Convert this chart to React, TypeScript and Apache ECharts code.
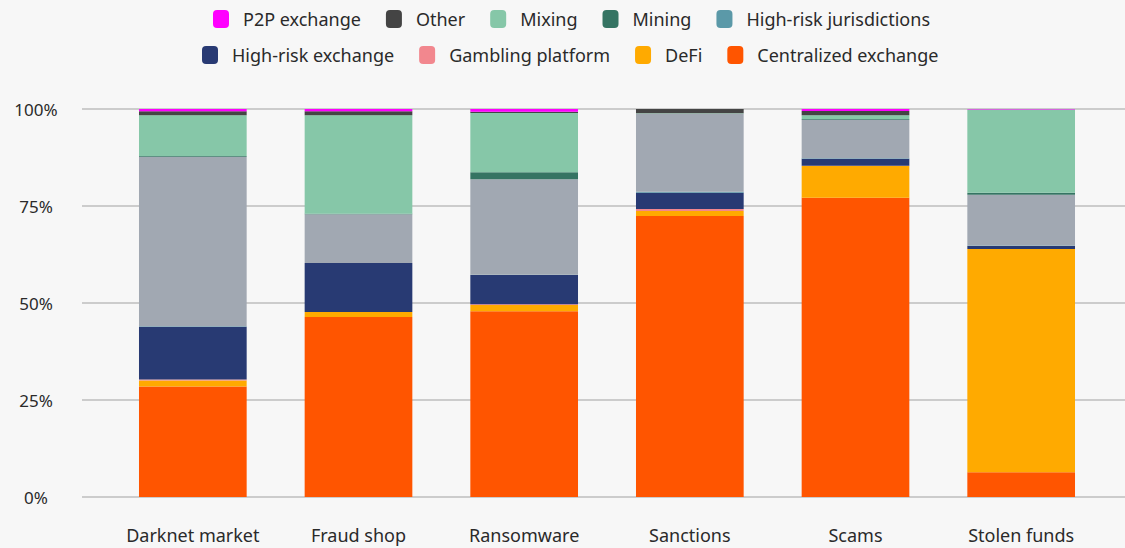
import React, { useEffect, useRef } from "react";
import * as echarts from "echarts";

const categories = ["Darknet market", "Fraud shop", "Ransomware", "Sanctions", "Scams", "Stolen funds"];
const yTicks = [0, 25, 50, 75, 100];

const centralizedExchange = [28.5, 46.4, 47.9, 72.4, 77.1, 6.4];
const defi = [1.5, 1.3, 1.6, 1.3, 8.2, 57.5];
const gambling = [0.3, 0, 0.2, 0.5, 0.1, 0];
const highRiskExchange = [13.6, 12.6, 7.5, 4.2, 1.8, 0.8];
const highRiskJurisdictions = [0.1, 0, 0.1, 0.3, 0.1, 0.1];
const unlabeled = [43.7, 12.6, 24.6, 20.1, 9.9, 13.1];
const mining = [0.2, 0.1, 1.8, 0, 0.2, 0.5];
const mixing = [10.5, 25.4, 15.3, 0.1, 1.0, 21.5];
const other = [1.0, 1.0, 0.3, 1.1, 1.1, 0];
const p2pExchange = [0.6, 0.6, 0.7, 0, 0.5, 0.1];

const seriesDefs = [
  { name: "Centralized exchange", data: centralizedExchange, color: "#ff5500" },
  { name: "DeFi", data: defi, color: "#ffaa00" },
  { name: "Gambling platform", data: gambling, color: "#f2878e" },
  { name: "High-risk exchange", data: highRiskExchange, color: "#283a73" },
  { name: "High-risk jurisdictions", data: highRiskJurisdictions, color: "#5b99a8" },
  { name: "Unlabeled", data: unlabeled, color: "#a1a8b2" },
  { name: "Mining", data: mining, color: "#357463" },
  { name: "Mixing", data: mixing, color: "#86c7a8" },
  { name: "Other", data: other, color: "#444444" },
  { name: "P2P exchange", data: p2pExchange, color: "#ff00ff" },
];

const legendRow1 = ["P2P exchange", "Other", "Mixing", "Mining", "High-risk jurisdictions"];
const legendRow2 = ["High-risk exchange", "Gambling platform", "DeFi", "Centralized exchange"];

const FONT = "'Noto Sans', sans-serif";

export default function App() {
  const ref = useRef<HTMLDivElement>(null);
  useEffect(() => {
    document.body.style.margin = "0";
    if (!ref.current) return;
    const chart = echarts.init(ref.current, null, { renderer: "svg" });
    const legendCommon = {
      padding: 0,
      itemWidth: 16,
      itemHeight: 18,
      itemGap: 25,
      icon: "roundRect",
      textStyle: { fontSize: 18, color: "#2a2a2a", fontFamily: FONT, padding: [0, 0, 0, 9] },
      selectedMode: false,
    };
    chart.setOption({
      animation: false,
      backgroundColor: "#f7f7f7",
      textStyle: { fontFamily: FONT },
      legend: [
        { ...legendCommon, left: 213, top: 10, data: legendRow1 },
        { ...legendCommon, left: 202, top: 46, data: legendRow2 },
      ],
      grid: [
        { left: 110, right: 21, top: 109, bottom: 51 },
        { left: 82, right: 0, top: 109, bottom: 51 },
      ],
      xAxis: [
        {
          type: "category",
          gridIndex: 0,
          data: categories,
          axisLine: { show: false },
          axisTick: { show: false },
          axisLabel: { fontSize: 18, color: "#2a2a2a", margin: 29, fontFamily: FONT, interval: 0 },
        },
        { type: "value", gridIndex: 1, show: false, min: 0, max: 1 },
      ],
      yAxis: [
        { type: "value", gridIndex: 0, min: 0, max: 100, interval: 25, show: false },
        {
          type: "value",
          gridIndex: 1,
          min: 0,
          max: 100,
          interval: 25,
          axisLine: { show: false },
          axisTick: { show: false },
          splitLine: { lineStyle: { color: "#cccccc", width: 2 } },
          axisLabel: {
            fontSize: 17,
            color: "#2a2a2a",
            fontFamily: FONT,
            align: "center",
            margin: 46,
            formatter: (v: number) => (yTicks.includes(v) ? v + "%" : ""),
          },
        },
      ],
      series: seriesDefs.map((s) => ({
        name: s.name,
        type: "bar",
        stack: "total",
        xAxisIndex: 0,
        yAxisIndex: 0,
        barWidth: "65%",
        data: s.data,
        itemStyle: { color: s.color },
        z: 3,
      })),
    });
    return () => chart.dispose();
  }, []);
  return <div ref={ref} style={{ width: 1125, height: 548 }} />;
}
